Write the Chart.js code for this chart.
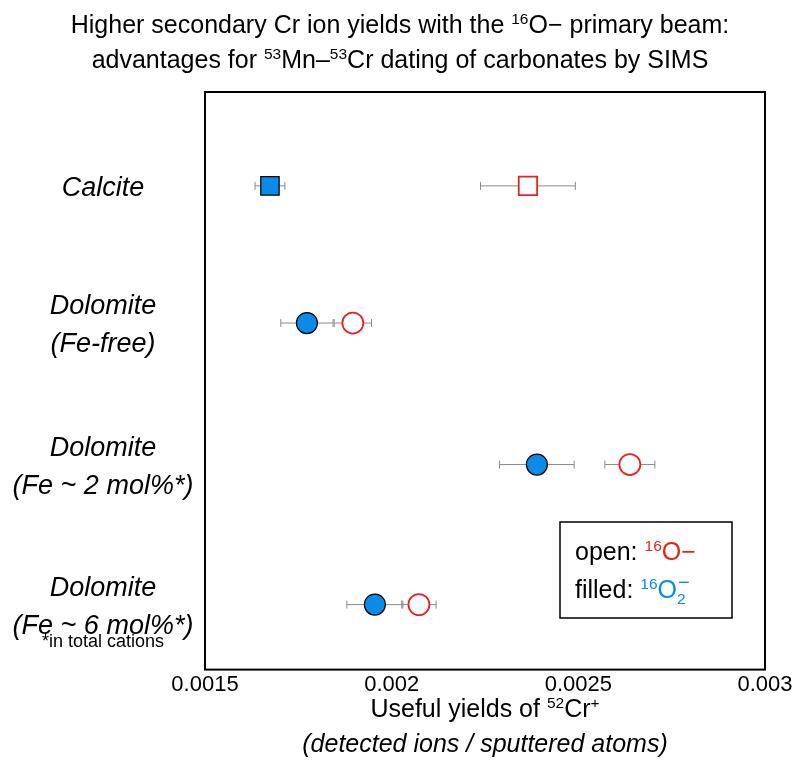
<!DOCTYPE html>
<html><head><meta charset="utf-8">
<script src="https://cdn.jsdelivr.net/npm/chart.js@4"></script>
<style>html,body{margin:0;background:#fff}#wrap{width:800px;height:766px}</style>
</head><body><div id="wrap"><canvas id="c"></canvas></div>
<script>
// samples, top to bottom
const samples = [['Calcite'], ['Dolomite', '(Fe-free)'], ['Dolomite', '(Fe ~ 2 mol%*)'], ['Dolomite', '(Fe ~ 6 mol%*)']];
const rowPos = [0.65, 1.6, 2.58, 3.55];
// 16O2- beam (filled)
const filledX = [0.001674, 0.001773, 0.002389, 0.001955];
const filledErr = [0.00004, 0.00007, 0.0001, 0.000075];
// 16O- beam (open)
const openX = [0.002365, 0.001896, 0.002638, 0.002073];
const openErr = [0.000127, 0.00005, 0.000067, 0.000046];
const xTicks = [0.0015, 0.002, 0.0025, 0.003];

const RED = '#e8231c', BLUE = '#0a8be8';
const FONT = 'Arial, "Liberation Sans", sans-serif';

// 文字片段绘制：支持上标/下标
function runs(ctx, parts, x, y, size, align) {
  let w = 0;
  parts.forEach(p => {
    const s = p.sup || p.sub ? size * 0.62 : size;
    ctx.font = (p.it ? 'italic ' : '') + s + 'px ' + FONT;
    p.w = ctx.measureText(p.t).width; w += p.w;
  });
  let cx = align === 'center' ? x - w / 2 : x;
  ctx.textBaseline = 'alphabetic'; ctx.textAlign = 'left';
  parts.forEach(p => {
    const s = p.sup || p.sub ? size * 0.62 : size;
    ctx.font = (p.it ? 'italic ' : '') + s + 'px ' + FONT;
    ctx.fillStyle = p.c || '#000';
    const dy = p.sup ? -size * 0.38 : p.sub ? size * 0.25 : 0;
    ctx.fillText(p.t, cx, y + dy);
    cx += p.w;
  });
}

const deco = {
  id: 'deco',
  beforeDatasetsDraw(chart) {
    const { ctx, scales: { x, y } } = chart;
    ctx.save();
    ctx.strokeStyle = '#8a8a8a'; ctx.lineWidth = 1;
    [[filledX, filledErr], [openX, openErr]].forEach(([v, e]) => {
      v.forEach((val, i) => {
        const py = y.getPixelForValue(rowPos[i]);
        const a = x.getPixelForValue(val - e[i]), b = x.getPixelForValue(val + e[i]);
        ctx.beginPath();
        ctx.moveTo(a, py); ctx.lineTo(b, py);
        ctx.moveTo(a, py - 4); ctx.lineTo(a, py + 4);
        ctx.moveTo(b, py - 4); ctx.lineTo(b, py + 4);
        ctx.stroke();
      });
    });
    ctx.restore();
  },
  afterDraw(chart) {
    const { ctx, chartArea: ca, scales: { y } } = chart;
    ctx.save();
    ctx.strokeStyle = '#000'; ctx.lineWidth = 2;
    ctx.strokeRect(ca.left, ca.top, ca.right - ca.left, ca.bottom - ca.top);
    // title
    runs(ctx, [{ t: 'Higher secondary Cr ion yields with the ' }, { t: '16', sup: 1 }, { t: 'O\u2212 primary beam:' }], 400, 33, 25, 'center');
    runs(ctx, [{ t: 'advantages for ' }, { t: '53', sup: 1 }, { t: 'Mn\u2013' }, { t: '53', sup: 1 }, { t: 'Cr dating of carbonates by SIMS' }], 400, 68, 25, 'center');
    // y category labels
    samples.forEach((lines, i) => {
      const py = y.getPixelForValue(rowPos[i]);
      const n = lines.length;
      lines.forEach((l, j) => runs(ctx, [{ t: l, it: 1 }], 103, py + 10 + (j - (n - 1) / 2) * 38, 27, 'center'));
    });
    runs(ctx, [{ t: '*in total cations' }], 103, 647, 18, 'center');
    // x title
    runs(ctx, [{ t: 'Useful yields of ' }, { t: '52', sup: 1 }, { t: 'Cr' }, { t: '+', sup: 1 }], 485, 717, 25, 'center');
    runs(ctx, [{ t: '(detected ions / sputtered atoms)', it: 1 }], 485, 752, 25, 'center');
    // legend
    ctx.lineWidth = 1.5; ctx.strokeRect(560, 522, 172, 96);
    runs(ctx, [{ t: 'open: ' }, { t: '16', sup: 1, c: RED }, { t: 'O\u2212', c: RED }], 575, 560, 25, 'left');
    ctx.font = '25px ' + FONT;
    const w1 = ctx.measureText('filled: O').width;
    ctx.font = (25 * 0.62) + 'px ' + FONT;
    const w3 = w1 + ctx.measureText('16').width;
    runs(ctx, [{ t: 'filled: ' }, { t: '16', sup: 1, c: BLUE }, { t: 'O', c: BLUE }, { t: '2', sub: 1, c: BLUE }], 575, 598, 25, 'left');
    ctx.fillStyle = BLUE; ctx.font = '20px ' + FONT;
    ctx.fillText('\u2212', 575 + w3 + 1, 589);
    ctx.restore();
  }
};

new Chart(document.getElementById('c'), {
  type: 'scatter',
  data: {
    datasets: [
      { data: openX.map((v, i) => ({ x: v, y: rowPos[i] })),
        pointStyle: ['rect', 'circle', 'circle', 'circle'], pointRadius: [13, 10.5, 10.5, 10.5],
        backgroundColor: '#fff', borderColor: RED, borderWidth: 1.8 },
      { data: filledX.map((v, i) => ({ x: v, y: rowPos[i] })),
        pointStyle: ['rect', 'circle', 'circle', 'circle'], pointRadius: [13, 10.5, 10.5, 10.5],
        backgroundColor: BLUE, borderColor: '#000', borderWidth: 1.2 }
    ]
  },
  options: {
    responsive: true, maintainAspectRatio: false, animation: false,
    layout: { padding: { left: 205, right: 35, top: 92, bottom: 66 } },
    plugins: { legend: { display: false }, tooltip: { enabled: false } },
    scales: {
      x: {
        min: 0.0015, max: 0.003,
        afterBuildTicks: a => { a.ticks = xTicks.map(v => ({ value: v })); },
        ticks: { color: '#000', font: { size: 22, family: FONT }, padding: 2, callback: v => String(+v.toFixed(4)) },
        grid: { display: false, drawTicks: false }, border: { display: false }
      },
      y: {
        min: 0, max: 4, reverse: true, display: false
      }
    }
  },
  plugins: [deco]
});
</script></body></html>
